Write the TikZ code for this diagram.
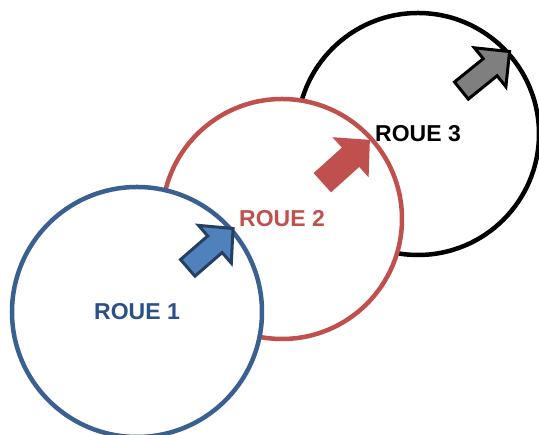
\documentclass[tikz,border=0pt]{standalone}
\usepackage{fontspec}
\setmainfont{Liberation Sans}

\definecolor{bleuroue}{HTML}{3A6090}
\definecolor{bleutexte}{HTML}{2A5086}
\definecolor{bleufleche}{HTML}{4F81BD}
\definecolor{bleubord}{HTML}{243F60}
\definecolor{rougeroue}{HTML}{C0504D}
\definecolor{grisfleche}{HTML}{7F7F7F}

\tikzset{
  roue/.style={circle, draw, fill=white, line width=4.5pt, inner sep=0pt,
    font=\fontsize{23}{23}\selectfont\bfseries},
  fleche/.style={line width=3pt, line join=miter},
}

\begin{document}
\begin{tikzpicture}[x=1pt,y=1pt]
	\useasboundingbox (0,0) rectangle (539,435);
	% les trois roues, de l'arriere vers l'avant
	\node[roue, draw=black, minimum size=242pt] (roue3) at (418,301) {ROUE 3};
	\node[roue, draw=rougeroue, text=rougeroue, minimum size=240pt] (roue2) at (282,216) {ROUE 2};
	\node[roue, draw=bleuroue, text=bleutexte, minimum size=250pt] (roue1) at (137,123) {ROUE 1};
	% fleches
	\draw[fleche, draw=bleubord, fill=bleufleche, shift={(roue1.41)}, rotate=41]
		(-60,-11) -- (-24,-11) -- (-24,-25) -- (0,0) -- (-24,25) -- (-24,11) -- (-60,11) -- cycle;
	\fill[rougeroue, shift={(roue2.42)}, rotate=42]
		(-68,-13) -- (-30,-13) -- (-30,-27) -- (-4,0) -- (-30,27) -- (-30,13) -- (-68,13) -- cycle;
	\draw[fleche, draw=black, fill=grisfleche, shift={(roue3.42)}, rotate=39]
		(-62,-11) -- (-25,-11) -- (-25,-25) -- (0,0) -- (-25,25) -- (-25,11) -- (-62,11) -- cycle;
\end{tikzpicture}
\end{document}
